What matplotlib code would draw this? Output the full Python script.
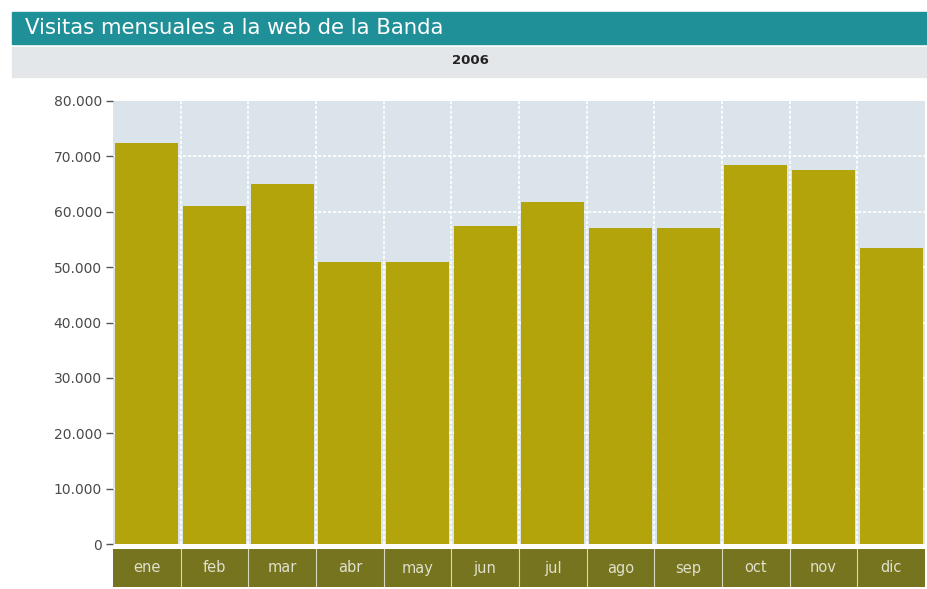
import matplotlib
matplotlib.use("Agg")
import matplotlib.pyplot as plt
from matplotlib.patches import Rectangle
from matplotlib.ticker import FuncFormatter

# -------------------------
# Data
# -------------------------
months = ["ene", "feb", "mar", "abr", "may", "jun",
          "jul", "ago", "sep", "oct", "nov", "dic"]
visits = [72500, 61000, 65100, 51000, 51000, 57500,
          61700, 57000, 57000, 68500, 67600, 53500]
y_ticks = [0, 10000, 20000, 30000, 40000, 50000, 60000, 70000, 80000]

title = "Visitas mensuales a la web de la Banda"
subtitle = "2006"

# colours
TEAL = "#1f8f98"
BAND = "#e4e7ea"
PLOT_BG = "#dae4ea"
BAR = "#b3a40c"
STRIP = "#76741f"

W, H = 927, 589
fig = plt.figure(figsize=(W / 100, H / 100), dpi=100)
fig.patch.set_facecolor("white")

def fx(px):
    return px / W

def fy(py):
    return 1 - py / H

# -------------------------
# Header bands
# -------------------------
fig.patches.append(Rectangle((fx(12), fy(44)), fx(915), 32 / H,
                             transform=fig.transFigure, color=TEAL, zorder=0))
fig.patches.append(Rectangle((fx(12), fy(77)), fx(915), 30 / H,
                             transform=fig.transFigure, color=BAND, zorder=0))
fig.text(fx(25), fy(28), title, color="white", fontsize=15.3,
         va="center", ha="left")
fig.text(fx(470), fy(61), subtitle, color="#222222", fontsize=9.5,
         va="center", ha="center", fontweight="bold")

# -------------------------
# Main bar chart
# -------------------------
ax = fig.add_axes([fx(113), fy(544), fx(925 - 113), (544 - 101) / H])
ax.set_facecolor(PLOT_BG)
x = list(range(len(months)))
ax.bar(x, visits, width=0.93, color=BAR, zorder=3)

ax.set_xlim(-0.5, len(months) - 0.5)
ax.set_ylim(0, 80000)
ax.set_yticks(y_ticks)
ax.yaxis.set_major_formatter(FuncFormatter(lambda v, p: f"{int(v):,}".replace(",", ".")))
ax.set_xticks([])
ax.tick_params(axis="y", length=5, width=1, color="#555555",
               labelcolor="#4a4a4a", labelsize=10, pad=3)

for v in y_ticks[1:-1]:
    ax.axhline(v, color="white", lw=1.2, ls=(0, (2, 1)), zorder=1)
for b in range(1, len(months)):
    ax.axvline(b - 0.5, color="white", lw=1.2, ls=(0, (2, 1)), zorder=1)

for s in ax.spines.values():
    s.set_visible(False)

# -------------------------
# Month label strip
# -------------------------
ax2 = fig.add_axes([fx(113), fy(587), fx(925 - 113), (587 - 549) / H])
ax2.set_facecolor(STRIP)
ax2.set_xlim(-0.5, len(months) - 0.5)
ax2.set_ylim(0, 1)
for b in range(1, len(months)):
    ax2.axvline(b - 0.5, color="#d8d8c0", lw=0.8)
for i, m in enumerate(months):
    ax2.text(i, 0.5, m, color="#e0e0cc", fontsize=10.5, ha="center", va="center")
ax2.set_xticks([])
ax2.set_yticks([])
for s in ax2.spines.values():
    s.set_visible(False)

fig.savefig("out.png", dpi=100)
